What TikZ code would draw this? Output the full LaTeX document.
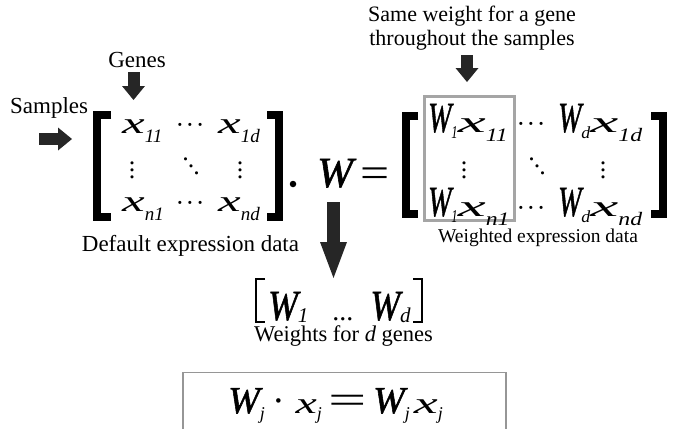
\documentclass[tikz,border=0pt]{standalone}
\usepackage{fontspec}
\setmainfont{Liberation Serif}
\newfontfamily\wfont{Liberation Serif}[FakeBold=1.4]
\usepackage{graphicx}
\usetikzlibrary{arrows.meta, positioning}
\definecolor{arrowgray}{RGB}{38,38,38}
\definecolor{boxgray}{RGB}{165,165,165}
\definecolor{framegray}{RGB}{150,150,150}

% glyph: size, horizontal stretch, letter
\newcommand{\gl}[3]{{\fontsize{#1}{#1}\selectfont\scalebox{#2}[1]{\itshape #3}}}
% the weight letter, a little heavier
\newcommand{\glw}[2]{{\fontsize{#1}{#1}\selectfont\scalebox{#2}[1]{\wfont\itshape W}}}
% subscript: lowering, size, horizontal stretch, text
\newcommand{\sbs}[4]{\raisebox{#1}{\fontsize{#2}{#2}\selectfont\scalebox{#3}[1]{\itshape #4}}}
% dots
\newcommand{\vd}{\vbox{\baselineskip=7pt\lineskiplimit=-20pt\hbox{.}\hbox{.}\hbox{.}}}
\newcommand{\dd}{\raisebox{14pt}{.}\kern-1pt\raisebox{7pt}{.}\kern-1pt.}
\newcommand{\cd}{·\kern1.5pt·\kern1.5pt·}

\begin{document}
\begin{tikzpicture}[x=1pt, y=-1pt,
    every node/.style={inner sep=0pt},
    lbl/.style={font=\fontsize{23}{26}\selectfont},
    ent/.style={anchor=base west},
    dts/.style={anchor=base, font=\fontsize{26}{26}\selectfont},
    brk/.style={line width=8pt, line join=miter},
    blockarrow/.style={draw=arrowgray, line width=12pt, -{Triangle[length=14pt, width=23pt, line width=0pt]}},
    bigarrow/.style={draw=arrowgray, line width=13pt, -{Triangle[length=36pt, width=27pt, line width=0pt]}}
]
\useasboundingbox (0,0) rectangle (676,428);

% Labels
\node[lbl, anchor=base west] (samples) at (10,113) {Samples};
\node[lbl, anchor=base] (genes) at (137,67) {Genes};
\node[anchor=north, align=center, font=\fontsize{22}{24}\selectfont] (sameW) at (472,6) {Same weight for a gene\\throughout the samples};

% Arrows to the matrices
\coordinate (stail) at (39,139);
\coordinate (stip) at (72,139);
\coordinate (gtop) at (133.5,72);
\coordinate (gtip) at (133.5,100);
\coordinate (wtop) at (467,55);
\coordinate (wtip) at (467,82);
\draw[blockarrow] (stail) -- (stip);
\draw[blockarrow] (gtop) -- (gtip);
\draw[blockarrow] (wtop) -- (wtip);

% Default expression data
\draw[brk] (111,115) -- (97,115) -- (97,217) -- (111,217);
\draw[brk] (267,115) -- (279,115) -- (279,217) -- (267,217);
\node[ent] (x11) at (122,133) {\gl{30}{1.7}{x}\sbs{-9pt}{19}{1}{11}};
\node[ent] (x1d) at (218,133) {\gl{30}{1.7}{x}\sbs{-9pt}{19}{1}{1d}};
\node[ent] (xn1) at (122,211) {\gl{30}{1.7}{x}\sbs{-9pt}{19}{1}{n1}};
\node[ent] (xnd) at (218,211) {\gl{30}{1.7}{x}\sbs{-9pt}{19}{1}{nd}};
\node[dts] (dc1) at (190,133) {\cd};
\node[dts] (dc3) at (190,211) {\cd};
\node[dts] (dv1) at (132,178) {\vd};
\node[dts] (dv3) at (240,178) {\vd};
\node[dts] (ddg) at (191,174) {\dd};
\node[lbl, anchor=base] (defl) at (190.5,251) {Default expression data};

% Product with W
\node[circle, fill=black, minimum size=6.5pt] (mul) at (293,184) {};
\node[ent] (wop) at (317,187) {\glw{43}{1}};
\node[ent] (eqs) at (360,187) {\fontsize{43}{43}\selectfont\scalebox{1.2}[1]{=}};

% Weighted expression data
\draw[boxgray, line width=3pt] (424.5,96.5) rectangle (514.5,220.5);
\draw[brk] (418,116) -- (406,116) -- (406,214) -- (418,214);
\draw[brk] (651,116) -- (663,116) -- (663,214) -- (651,214);
\node[ent] (wx11) at (428,132) {\glw{43}{0.65}\sbs{-6pt}{18}{0.7}{1}\gl{30}{2.1}{x}\sbs{-9pt}{19}{1.25}{11}};
\node[ent] (wx1d) at (558,132) {\glw{43}{0.65}\sbs{-6pt}{17}{1.05}{d}\gl{30}{2.1}{x}\sbs{-9pt}{19}{1.25}{1d}};
\node[ent] (wxn1) at (428,216) {\glw{43}{0.65}\sbs{-6pt}{18}{0.7}{1}\gl{30}{2.1}{x}\sbs{-9pt}{19}{1.25}{n1}};
\node[ent] (wxnd) at (558,216) {\glw{43}{0.65}\sbs{-6pt}{17}{1.05}{d}\gl{30}{2.1}{x}\sbs{-9pt}{19}{1.25}{nd}};
\node[dts] (wc1) at (531,132) {\cd};
\node[dts] (wc3) at (531,216) {\cd};
\node[dts] (wv1) at (464,178) {\vd};
\node[dts] (wv3) at (603,178) {\vd};
\node[dts] (wdg) at (537,174) {\dd};
\node[anchor=base, font=\fontsize{19.5}{22}\selectfont] (wtdl) at (538,242) {Weighted expression data};

% Weight vector
\coordinate (btop) at (333.5,202);
\coordinate (btip) at (333.5,278);
\draw[bigarrow] (btop) -- (btip);
\draw[line width=2pt] (265,279) -- (256,279) -- (256,322) -- (265,322);
\draw[line width=2pt] (413,279) -- (422,279) -- (422,322) -- (413,322);
\node[ent] (wvec) at (268,320) {\glw{43}{0.83}\sbs{-2pt}{21}{1}{1}\hspace{24pt}{\fontsize{28}{28}\selectfont...}\hspace{17pt}\glw{43}{0.83}\sbs{-2pt}{21}{1}{d}};
\node[anchor=base, font=\fontsize{22.5}{26}\selectfont] (wvecl) at (343.5,341) {Weights for \textit{d} genes};

% Element-wise product
\draw[framegray, line width=1.2pt] (183,372.5) rectangle (506,460);
\node[ent] (eqn) at (228,413) {\glw{38}{1}\sbs{-6pt}{18}{1}{j}\hspace{8pt}{\fontsize{38}{38}\selectfont·}\hspace{10pt}\gl{30}{1.6}{x}\sbs{-6pt}{18}{1}{j}\hspace{7pt}{\fontsize{40}{40}\selectfont\scalebox{1.7}[1]{=}}\hspace{6pt}\glw{38}{1}\sbs{-6pt}{18}{1}{j}\hspace{4pt}\gl{30}{1.8}{x}\sbs{-6pt}{18}{1}{j}};

\end{tikzpicture}
\end{document}
